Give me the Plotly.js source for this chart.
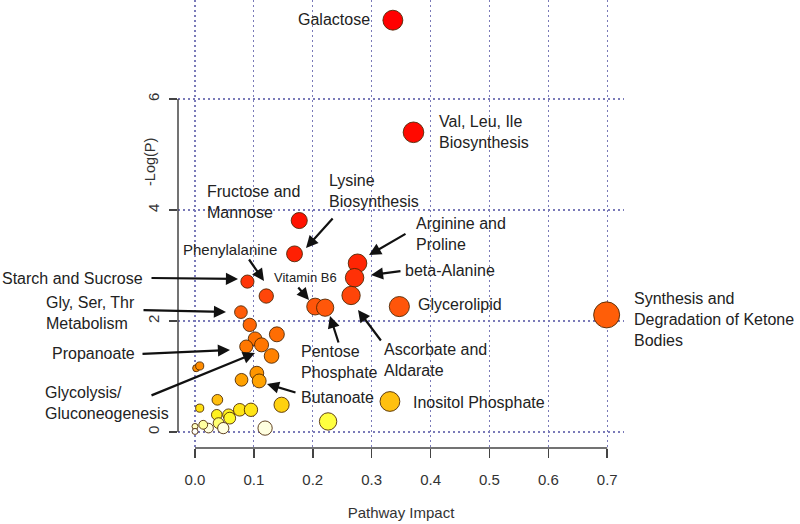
<!DOCTYPE html>
<html>
<head>
<meta charset="utf-8">
<script src="https://cdn.plot.ly/plotly-3.0.1.min.js"></script>
<style>
  html, body { margin: 0; padding: 0; background: #fff; }
  #plot-div { width: 800px; height: 524px; }
</style>
</head>
<body>
<div id="plot-div"></div>
<script>
// pathway impact (x) and -log(p) (y)
var impact = [0.336, 0.371, 0.177, 0.169, 0.276, 0.271, 0.265, 0.089, 0.121, 0.204,
              0.221, 0.347, 0.699, 0.078, 0.093, 0.139, 0.102, 0.087, 0.113, 0.130,
              0.002, 0.008, 0.079, 0.105, 0.109, 0.147, 0.038, 0.008, 0.037, 0.057,
              0.076, 0.095, 0.059, 0.040, 0.048, 0.023, 0.014, 0.000, 0.000, 0.119,
              0.226, 0.331];
var logP = [7.42, 5.40, 3.81, 3.21, 3.04, 2.78, 2.46, 2.71, 2.45, 2.26,
            2.24, 2.26, 2.11, 2.16, 1.93, 1.76, 1.68, 1.54, 1.57, 1.37,
            1.15, 1.19, 0.94, 1.06, 0.92, 0.49, 0.58, 0.43, 0.31, 0.31,
            0.40, 0.40, 0.25, 0.16, 0.07, 0.07, 0.13, 0.10, 0.01, 0.07,
            0.19, 0.55];
var pathway = ["Galactose", "Val, Leu, Ile Biosynthesis", "Fructose and Mannose", "Lysine Biosynthesis",
               "Arginine and Proline", "beta-Alanine", "Ascorbate and Aldarate", "Starch and Sucrose",
               "Phenylalanine", "Vitamin B6", "Pentose Phosphate", "Glycerolipid",
               "Synthesis and Degradation of Ketone Bodies", "Gly, Ser, Thr Metabolism", "", "", "",
               "Propanoate", "Glycolysis/Gluconeogenesis", "", "", "", "", "", "Butanoate", "", "", "",
               "", "", "", "", "", "", "", "", "", "", "", "", "", "Inositol Phosphate"];
var xTicks = [0, 0.1, 0.2, 0.3, 0.4, 0.5, 0.6, 0.7];
var xTickText = ["0.0", "0.1", "0.2", "0.3", "0.4", "0.5", "0.6", "0.7"];
var yTicks = [0, 2, 4, 6];

// pixel -> data / paper helpers, only used to place labels and arrows
function X(p) { return (p - 195) / 588.9; }
function Y(p) { return (432 - p) / 55.5; }
function PX(p) { return (p - 178) / 446; }
function PY(p) { return (448 - p) / 448; }

// label text, position in px (left edge / right edge, middle), font size
var labels = [
  { t: "Galactose", x: 371, y: 20, anchor: "right" },
  { t: "Val, Leu, Ile<br>Biosynthesis", x: 438, y: 132 },
  { t: "Fructose and<br>Mannose", x: 206, y: 202 },
  { t: "Lysine<br>Biosynthesis", x: 328, y: 191 },
  { t: "Phenylalanine", x: 182, y: 249, size: 15 },
  { t: "Arginine and<br>Proline", x: 415, y: 234 },
  { t: "beta-Alanine", x: 404, y: 270 },
  { t: "Vitamin B6", x: 273, y: 277, size: 13 },
  { t: "Glycerolipid", x: 417, y: 304 },
  { t: "Synthesis and<br>Degradation of Ketone<br>Bodies", x: 633, y: 319 },
  { t: "Pentose<br>Phosphate", x: 300, y: 362 },
  { t: "Ascorbate and<br>Aldarate", x: 383, y: 360 },
  { t: "Butanoate", x: 300, y: 397 },
  { t: "Inositol Phosphate", x: 412, y: 402 },
  { t: "Starch and Sucrose", x: 1, y: 278 },
  { t: "Gly, Ser, Thr<br>Metabolism", x: 45, y: 313 },
  { t: "Propanoate", x: 51, y: 353 },
  { t: "Glycolysis/<br>Gluconeogenesis", x: 44, y: 403 }
];

// arrows: tail (tx, ty) -> head (hx, hy), px
var arrows = [
  [150, 278, 238, 279],
  [142, 310, 226, 312],
  [141, 354, 230, 350],
  [150, 396, 255, 353],
  [248, 258, 264, 281],
  [334, 217, 306, 248],
  [297, 286, 309, 300],
  [407, 233, 369, 255],
  [402, 271, 371, 275],
  [339, 344, 330, 316],
  [382, 342, 358, 310],
  [297, 393, 267, 384]
];

// heat-colour scale over -log(p), white -> yellow -> orange -> red
var heatStops = [
  [0.00, "#ffffff"], [0.07, "#ffffe0"], [0.13, "#ffffa0"],
  [0.20, "#ffff30"], [0.32, "#fff020"], [0.45, "#ffdc10"],
  [0.55, "#ffc010"], [0.95, "#ffa000"], [1.20, "#ff8a00"],
  [1.60, "#ff7400"], [2.20, "#ff5a0a"], [2.60, "#ff3a08"],
  [3.10, "#ff2204"], [3.90, "#ff1000"], [7.42, "#ff0000"]
];
var cmax = 7.42;
var colorscale = heatStops.map(function (s) { return [s[0] / cmax, s[1]]; });

var sizes = impact.map(function (v) { return 2 * (3 + 12 * Math.sqrt(v)); });

var trace = {
  x: impact,
  y: logP,
  text: pathway,
  mode: "markers",
  type: "scatter",
  cliponaxis: false,
  hoverinfo: "text+x+y",
  marker: {
    size: sizes,
    color: logP,
    cmin: 0,
    cmax: cmax,
    colorscale: colorscale,
    showscale: false,
    opacity: 1,
    line: { color: "rgba(70,35,0,0.85)", width: 1 }
  }
};

var annotations = labels.map(function (l) {
  return {
    x: PX(l.x), y: PY(l.y), xref: "paper", yref: "paper",
    text: l.t, showarrow: false,
    xanchor: l.anchor || "left", yanchor: "middle", align: l.anchor || "left",
    borderpad: 0,
    font: { family: "Liberation Sans, Arial, sans-serif", size: l.size || 16, color: "#222" }
  };
});

arrows.forEach(function (a) {
  annotations.push({
    x: X(a[2]), y: Y(a[3]), xref: "x", yref: "y",
    ax: X(a[0]), ay: Y(a[1]), axref: "x", ayref: "y",
    text: "", showarrow: true,
    arrowhead: 2, arrowsize: 1.1, arrowwidth: 2.2, arrowcolor: "#111", standoff: 0
  });
});

// y axis title, R style left of the tick labels
annotations.push({
  x: PX(140), y: PY(162), xref: "paper", yref: "paper",
  text: "-Log(P)", showarrow: false, textangle: -90,
  font: { family: "Liberation Sans, Arial, sans-serif", size: 14.5, color: "#333" }
});

var gridDash = "2px,3px";
var layout = {
  width: 800,
  height: 524,
  margin: { l: 178, r: 176, t: 0, b: 76 },
  paper_bgcolor: "#fff",
  plot_bgcolor: "#fff",
  showlegend: false,
  font: { family: "Liberation Sans, Arial, sans-serif", color: "#333" },
  xaxis: {
    range: [X(178), X(624)],
    tickvals: xTicks,
    ticktext: xTickText,
    ticks: "outside",
    ticklen: 9,
    tickwidth: 1.5,
    tickcolor: "#444",
    ticklabelstandoff: 9,
    tickfont: { size: 15, color: "#333" },
    showline: false,
    zeroline: false,
    showgrid: true,
    gridcolor: "#7a7ab8",
    gridwidth: 1.2,
    griddash: gridDash,
    title: { text: "Pathway Impact", font: { size: 15, color: "#333" }, standoff: 20 }
  },
  yaxis: {
    range: [Y(448), Y(0)],
    tickvals: yTicks,
    ticks: "outside",
    ticklen: 8,
    tickwidth: 1.5,
    tickcolor: "#444",
    tickangle: -90,
    ticklabelstandoff: 4,
    tickfont: { size: 15, color: "#333" },
    showline: false,
    zeroline: false,
    showgrid: true,
    gridcolor: "#7a7ab8",
    gridwidth: 1.2,
    griddash: gridDash
  },
  shapes: [
    { type: "line", xref: "x", yref: "paper", x0: 0, x1: 0.7, y0: 0, y1: 0,
      line: { color: "#444", width: 1.5 } },
    { type: "line", xref: "paper", yref: "y", x0: 0, x1: 0, y0: 0, y1: 6,
      line: { color: "#444", width: 1.5 } }
  ],
  annotations: annotations
};

Plotly.newPlot("plot-div", [trace], layout, { displayModeBar: false, staticPlot: true });
</script>
</body>
</html>
